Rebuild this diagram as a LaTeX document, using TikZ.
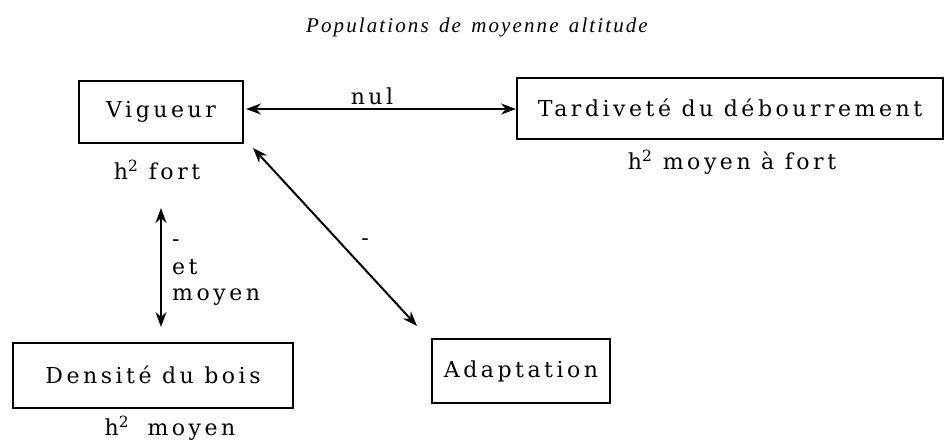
\documentclass[tikz,border=0pt]{standalone}
\usepackage{fontspec}
\usetikzlibrary{arrows.meta,calc}
\newfontfamily\tw[LetterSpace=16]{DejaVu Serif}
\newfontfamily\ttl[LetterSpace=10]{Liberation Serif}
\begin{document}
\begin{tikzpicture}[x=1pt,y=-1pt,
  box/.style={draw, line width=2pt, inner sep=0pt, font=\tw\fontsize{22}{26}\selectfont},
  lab/.style={inner sep=0pt, font=\tw\fontsize{22}{26}\selectfont},
  dbl/.style={line width=2pt, {Stealth[length=15pt,width=11pt]}-{Stealth[length=15pt,width=11pt]}}]
\useasboundingbox[fill=white] (0,0) rectangle (945,440);
\node[inner sep=0pt, font=\ttl\itshape\fontsize{21}{25}\selectfont] (title) at (477,27) {Populations\hspace{3pt} de\hspace{3pt} moyenne\hspace{3pt} altitude};
\node[box, minimum width=164pt, minimum height=62pt] (V) at (161,112) {Vigueur};
\node[box, minimum width=426pt, minimum height=61pt] (T) at (730,108) {Tardiveté du débourrement};
\node[box, minimum width=280pt, minimum height=65pt] (D) at (153,375) {Densité du bois};
\node[box, minimum width=178pt, minimum height=64pt] (A) at (521,371) {Adaptation};
\node[lab] (hV) at (157,170) {h\textsuperscript{2} fort};
\node[lab] (hT) at (732,162) {h\textsuperscript{2} moyen à fort};
\node[lab] (hD) at (170,428) {h\textsuperscript{2}\hspace{8pt} moyen};
\coordinate (n1) at ($(V.east)+(2,-3)$);
\coordinate (n2) at (T.west |- n1);
\draw[dbl] (n1) -- (n2);
\node[lab] (nul) at (372,96) {nul};
\coordinate (d1) at ($(V.south east)+(9,4)$);
\coordinate (d2) at ($(A.north west)+(-14,-12)$);
\draw[dbl] (d1) -- (d2);
\node[lab] (m1) at (365,242) {-};
\coordinate (v1) at (161,208);
\coordinate (v2) at (161,327);
\draw[dbl] (v1) -- (v2);
\node[lab, anchor=west] (m2) at (172,243) {-};
\node[lab, anchor=west] (et) at (172,267) {et};
\node[lab, anchor=west] (moy) at (172,297) {moyen};
\end{tikzpicture}
\end{document}
